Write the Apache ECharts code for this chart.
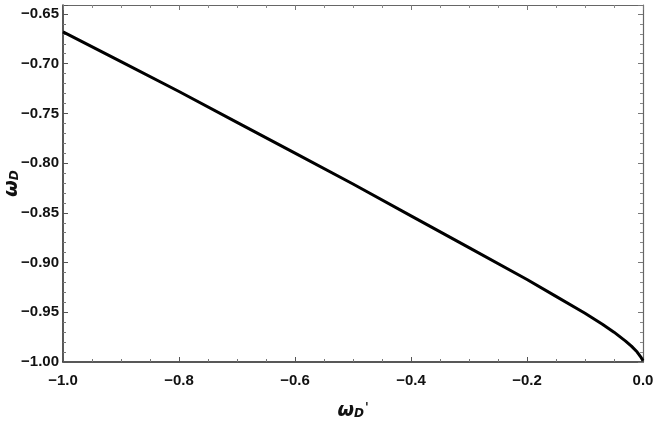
<!DOCTYPE html>
<html>
<head>
<meta charset="utf-8">
<script src="https://cdn.jsdelivr.net/npm/echarts@6/dist/echarts.min.js"></script>
<style>
  html, body { margin: 0; padding: 0; background: #fff; }
  #main { width: 654px; height: 436px; }
</style>
</head>
<body>
<div id="main"></div>
<script>
// values (w_D' on x, w_D on y)
var wPrime = [-1.0, -0.9, -0.8, -0.7, -0.6, -0.5, -0.4, -0.3, -0.2, -0.15, -0.1, -0.07, -0.05, -0.03, -0.02, -0.01, -0.004, 0.0];
var wD = [-0.668, -0.698, -0.728, -0.759, -0.790, -0.821, -0.853, -0.885, -0.917, -0.934, -0.951, -0.962, -0.970, -0.979, -0.984, -0.990, -0.9948, -0.9988];

var myChart = echarts.init(document.getElementById('main'));

var labelFont = '"Liberation Sans", Arial, sans-serif';

function minus(v, d) {
  var s = Math.abs(v).toFixed(d);
  return v < 0 ? '\u2212' + s : s;
}

var pts = [];
for (var i = 0; i < wPrime.length; i++) {
  pts.push([wPrime[i], wD[i]]);
}

var labelStyle = {
  color: '#111',
  fontFamily: labelFont,
  fontWeight: 'bold',
  fontSize: 15
};

var nameRich = {
  w: { fontSize: 19, fontWeight: 'bold', fontStyle: 'italic', fontFamily: 'DejaVu Sans', color: '#111', padding: [0, 0, 5, 0] },
  s: { fontSize: 12, fontWeight: 'bold', fontStyle: 'italic', fontFamily: 'DejaVu Sans', color: '#111' },
  p: { fontSize: 12, fontWeight: 'bold', fontFamily: 'DejaVu Sans', color: '#111', padding: [0, 0, 12, 1] }
};

option = {
  backgroundColor: '#fff',
  animation: false,
  grid: { left: 63, right: 11, top: 5, bottom: 74, outerBoundsMode: 'none', containLabel: false },
  xAxis: [{
    type: 'value',
    min: -1, max: 0, interval: 0.2,
    name: '{w|ω}{s|D}{p|\'}',
    nameLocation: 'middle',
    nameGap: 52,
    nameMoveOverlap: false,
    nameTextStyle: { rich: nameRich, align: 'center', verticalAlign: 'middle' },
    axisLine: { onZero: false, lineStyle: { color: '#222', width: 1.5 } },
    axisTick: { inside: true, length: 5, lineStyle: { color: '#555' } },
    minorTick: { show: true, splitNumber: 4, length: 3, lineStyle: { color: '#777' } },
    splitLine: { show: false },
    axisLabel: Object.assign({ margin: 11, formatter: function(v) { return minus(v, 1); } }, labelStyle)
  }, {
    type: 'value', position: 'top',
    min: -1, max: 0, interval: 0.2,
    axisLine: { onZero: false, lineStyle: { color: '#666', width: 1.2 } },
    axisTick: { inside: true, length: 5, lineStyle: { color: '#777' } },
    minorTick: { show: true, splitNumber: 4, length: 3, lineStyle: { color: '#888' } },
    splitLine: { show: false },
    axisLabel: { show: false }
  }],
  yAxis: [{
    type: 'value',
    min: -1, max: -0.641, interval: 0.05,
    name: '{w|ω}{s|D}',
    nameLocation: 'middle',
    nameRotate: 90,
    nameGap: 48,
    nameMoveOverlap: false,
    nameTextStyle: { rich: nameRich, align: 'center', verticalAlign: 'middle' },
    axisLine: { onZero: false, lineStyle: { color: '#222', width: 1.5 } },
    axisTick: { inside: true, length: 5, lineStyle: { color: '#555' } },
    minorTick: { show: true, splitNumber: 5, length: 3, lineStyle: { color: '#777' } },
    splitLine: { show: false },
    axisLabel: Object.assign({ margin: 4, showMaxLabel: false, formatter: function(v) { return minus(v, 2); } }, labelStyle)
  }, {
    type: 'value', position: 'right',
    min: -1, max: -0.641, interval: 0.05,
    axisLine: { onZero: false, lineStyle: { color: '#666', width: 1.2 } },
    axisTick: { inside: true, length: 5, lineStyle: { color: '#777' } },
    minorTick: { show: true, splitNumber: 5, length: 3, lineStyle: { color: '#888' } },
    splitLine: { show: false },
    axisLabel: { show: false }
  }],
  series: [{
    type: 'line',
    data: pts,
    smooth: false,
    showSymbol: false,
    lineStyle: { color: '#000', width: 3, join: 'round' }
  }]
};

myChart.setOption(option);
</script>
</body>
</html>
